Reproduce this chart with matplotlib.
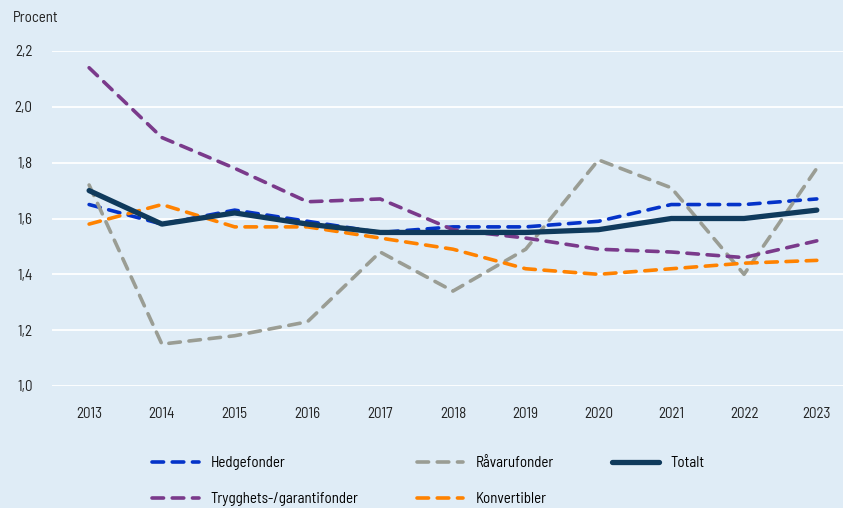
import numpy as np
import matplotlib
matplotlib.use('Agg')
import matplotlib.pyplot as plt
from matplotlib import font_manager

# data
years = [2013, 2014, 2015, 2016, 2017, 2018, 2019, 2020, 2021, 2022, 2023]
hedge    = [1.65, 1.58, 1.63, 1.59, 1.55, 1.57, 1.57, 1.59, 1.65, 1.65, 1.67]
ravara   = [1.72, 1.15, 1.18, 1.23, 1.48, 1.34, 1.49, 1.81, 1.71, 1.40, 1.78]
totalt   = [1.70, 1.58, 1.62, 1.58, 1.55, 1.55, 1.55, 1.56, 1.60, 1.60, 1.63]
trygghet = [2.14, 1.89, 1.78, 1.66, 1.67, 1.56, 1.53, 1.49, 1.48, 1.46, 1.52]
konv     = [1.58, 1.65, 1.57, 1.57, 1.53, 1.49, 1.42, 1.40, 1.42, 1.44, 1.45]
yticks = [1.0, 1.2, 1.4, 1.6, 1.8, 2.0, 2.2]

names = {f.name for f in font_manager.fontManager.ttflist}
fam = 'DejaVu Sans'
for cand in ['Barlow Semi Condensed', 'Barlow Condensed', 'Roboto Condensed',
             'Saira Semi Condensed', 'Liberation Sans Narrow']:
    if cand in names:
        fam = cand
        break
plt.rcParams['font.family'] = [fam, 'DejaVu Sans']

bg = '#dfecf6'
txt = '#222222'
fs = 10.8
fig = plt.figure(figsize=(8.43, 5.08), dpi=100, facecolor=bg)
ax = fig.add_axes([52/843, 1-386/508, 1-52/843, (386-51)/508], facecolor=bg)

dash = (0, (3.2, 2.4))
kw = dict(linestyle=dash, linewidth=2.6, dash_capstyle='round')
l1, = ax.plot(years, hedge, color='#0433c9', label='Hedgefonder', **kw)
l2, = ax.plot(years, ravara, color='#9a9d94', label='Råvarufonder', **kw)
l4, = ax.plot(years, trygghet, color='#7a3a8b', label='Trygghets-/garantifonder', **kw)
l5, = ax.plot(years, konv, color='#ff8200', label='Konvertibler', **kw)
l3, = ax.plot(years, totalt, color='#0f3a5c', linewidth=3.8,
              solid_capstyle='round', label='Totalt')

ax.set_xlim(2012.49, 2023.36)
ax.set_ylim(1.0, 2.2)
ax.set_yticks(yticks)
ax.set_yticklabels([f'{v:.1f}'.replace('.', ',') for v in yticks])
ax.set_xticks(years)
ax.grid(axis='y', color='white', linewidth=1.3)
ax.set_axisbelow(True)
for sp in ax.spines.values():
    sp.set_visible(False)
ax.tick_params(length=0, labelsize=fs, colors=txt)
ax.tick_params(axis='y', pad=14)
ax.tick_params(axis='x', pad=15)

fig.text(13/843, 1-18/508, 'Procent', fontsize=fs, color=txt,
         va='center', ha='left')

fig.legend(handles=[l1, l4, l2, l5, l3], ncol=3, frameon=False,
           loc='upper left', bbox_to_anchor=(152/843, 1-456/508),
           fontsize=fs, handlelength=3.1, handletextpad=0.8,
           columnspacing=3.9, labelspacing=1.45, borderpad=0, borderaxespad=0)

fig.savefig('out.png', dpi=100, facecolor=bg)
